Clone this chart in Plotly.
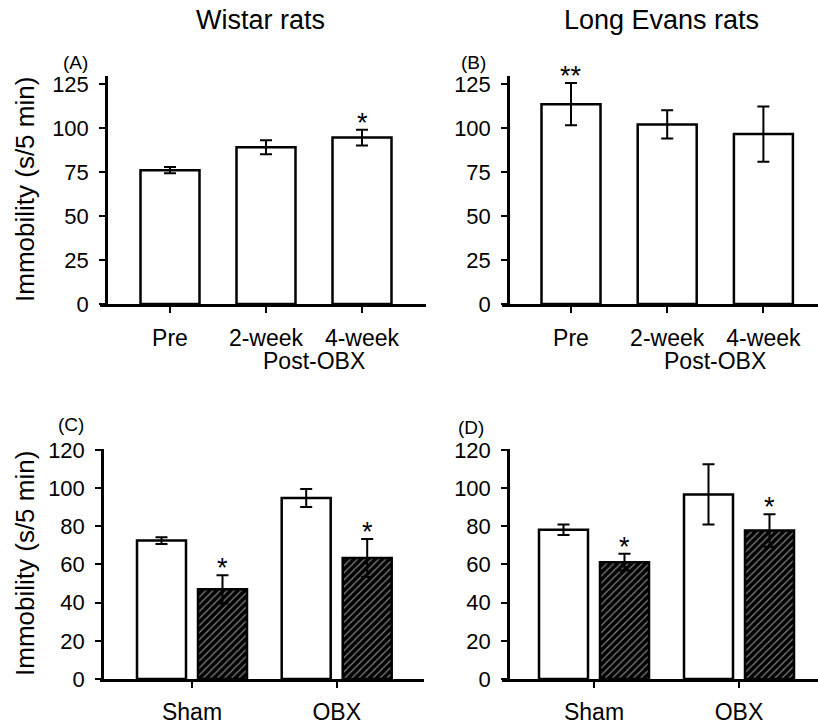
import plotly.graph_objects as go

W, H = 818, 725
FONT = "Liberation Sans, Arial, sans-serif"

# ---------------- data ----------------
time_cats = ["Pre", "2-week", "4-week"]
wistar_mean = [76, 89, 94.5]
wistar_err = [1.8, 4.0, 4.5]
wistar_sig = ["", "", "*"]

le_mean = [113.5, 102, 96.5]
le_err = [12, 8, 15.7]
le_sig = ["**", "", ""]

group_cats = ["Sham", "OBX"]
wistar_ctrl = [72.5, 94.8]
wistar_ctrl_err = [1.8, 4.7]
wistar_trt = [47, 63.4]
wistar_trt_err = [7.4, 10]
wistar_trt_sig = ["*", "*"]

le_ctrl = [78.2, 96.7]
le_ctrl_err = [2.7, 15.8]
le_trt = [61.2, 77.8]
le_trt_err = [4.4, 8.5]
le_trt_sig = ["*", "*"]

# ---------------- layout helpers ----------------
def px(x):
    return x / W

def py(y):
    return 1 - y / H

fig = go.Figure()

line_w = 2.5
err_style = lambda e: dict(type="data", array=e, visible=True, color="black", thickness=2, width=6)

# panel geometry (pixels): x-axis start, y-axis x, right end, top, bottom(zero)
panels = {
    "A": dict(x0=100, yx=106, x1=426, top=76, bot=304, t0=170, sp=96, ymax=129.5, sto=6),
    "B": dict(x0=502, yx=508, x1=818, top=76, bot=304, t0=571, sp=96.2, ymax=129.5, sto=6),
    "C": dict(x0=100, yx=102, x1=424, top=449, bot=679, t0=192, sp=144.7, ymax=120.5, sto=5),
    "D": dict(x0=502, yx=508, x1=818, top=449, bot=679, t0=594, sp=145, ymax=120.5, sto=5),
}
axis_ids = {"A": ("x", "y", "xaxis", "yaxis"), "B": ("x2", "y2", "xaxis2", "yaxis2"),
            "C": ("x3", "y3", "xaxis3", "yaxis3"), "D": ("x4", "y4", "xaxis4", "yaxis4")}

ann = []
STAR = dict(size=27, family=FONT, color="black")

def add_single(key, cats, mean, err, sig):
    xr, yr, _, _ = axis_ids[key]
    p = panels[key]
    fig.add_trace(go.Bar(x=cats, y=mean, xaxis=xr, yaxis=yr, width=59 / p["sp"],
                         marker=dict(color="white", line=dict(color="black", width=line_w)),
                         error_y=err_style(err), showlegend=False))
    for c, m, e, s in zip(cats, mean, err, sig):
        if s:
            ann.append(dict(x=c, y=m + e, xref=xr, yref=yr, text=s, showarrow=False,
                            xanchor="center", yanchor="bottom", yshift=-10, font=STAR))

def add_group(key, cats, ctrl, ctrl_e, trt, trt_e, sig):
    xr, yr, _, _ = axis_ids[key]
    p = panels[key]
    bw = 49 / p["sp"]
    gap = 12 / p["sp"]
    fig.add_trace(go.Bar(x=cats, y=ctrl, xaxis=xr, yaxis=yr, width=bw, offset=-(bw + gap / 2),
                         marker=dict(color="white", line=dict(color="black", width=line_w)),
                         error_y=err_style(ctrl_e), showlegend=False))
    fig.add_trace(go.Bar(x=cats, y=trt, xaxis=xr, yaxis=yr, width=bw, offset=gap / 2,
                         marker=dict(color="black", line=dict(color="black", width=line_w),
                                     pattern=dict(shape="/", fgcolor="white", bgcolor="black",
                                                  size=5, solidity=0.25, fillmode="overlay")),
                         error_y=err_style(trt_e), showlegend=False))
    for i, (c, m, e, s) in enumerate(zip(cats, trt, trt_e, sig)):
        if s:
            ann.append(dict(x=i + (gap / 2 + bw / 2), y=m + e, xref=xr, yref=yr, text=s,
                            showarrow=False, xanchor="center", yanchor="bottom", yshift=-10, font=STAR))

add_single("A", time_cats, wistar_mean, wistar_err, wistar_sig)
add_single("B", time_cats, le_mean, le_err, le_sig)
add_group("C", group_cats, wistar_ctrl, wistar_ctrl_err, wistar_trt, wistar_trt_err, wistar_trt_sig)
add_group("D", group_cats, le_ctrl, le_ctrl_err, le_trt, le_trt_err, le_trt_sig)

layout = dict(template="none", width=W, height=H, margin=dict(l=0, r=0, t=0, b=0, pad=0),
              paper_bgcolor="white", plot_bgcolor="white", barmode="overlay",
              font=dict(family=FONT, color="black"))

for key, p in panels.items():
    xr, yr, xa, ya = axis_ids[key]
    left = -(p["t0"] - p["x0"]) / p["sp"]
    right = (p["x1"] - p["t0"]) / p["sp"]
    layout[xa] = dict(domain=[px(p["x0"]), px(p["x1"])], anchor=yr, range=[left, right],
                      showline=True, linecolor="black", linewidth=line_w, ticks="outside",
                      ticklen=6, tickwidth=2, tickcolor="black", showgrid=False, zeroline=False,
                      tickfont=dict(size=23, family=FONT, color="black"), ticklabelstandoff=p["sto"],
                      automargin=False, fixedrange=True)
    if key in ("A", "B"):
        tv = [0, 25, 50, 75, 100, 125]
    else:
        tv = [0, 20, 40, 60, 80, 100, 120]
    layout[ya] = dict(domain=[py(p["bot"]), py(p["top"])], anchor="free", position=px(p["yx"]),
                      range=[0, p["ymax"]], tickvals=tv,
                      showline=True, linecolor="black", linewidth=line_w, ticks="outside",
                      ticklen=6, tickwidth=2, tickcolor="black", showgrid=False, zeroline=False,
                      tickfont=dict(size=22, family=FONT, color="black"), ticklabelstandoff=6,
                      automargin=False, fixedrange=True)
    if key in ("A", "C"):
        ann.append(dict(x=px(25), y=py((p["top"] + p["bot"]) / 2), xref="paper", yref="paper",
                        xanchor="center", yanchor="middle",
                        text="Immobility (s/5 min)", textangle=-90, showarrow=False,
                        font=dict(size=26, family=FONT, color="black")))

# Post-OBX labels
for key in ("A", "B"):
    xr, yr, _, _ = axis_ids[key]
    ann.append(dict(x=1.5, y=py(panels[key]["bot"]), xref=xr, yref="paper", text="Post-OBX",
                    showarrow=False, xanchor="center", yanchor="top", yshift=-42,
                    font=dict(size=23, family=FONT, color="black")))

# column titles
ann.append(dict(x=px(260), y=py(20), xref="paper", yref="paper", text="Wistar rats", showarrow=False,
                xanchor="center", yanchor="middle", font=dict(size=27, family=FONT, color="black")))
ann.append(dict(x=px(661), y=py(20), xref="paper", yref="paper", text="Long Evans rats", showarrow=False,
                xanchor="center", yanchor="middle", font=dict(size=27, family=FONT, color="black")))
# panel letters
for lab, (lx, ly) in {"(A)": (75, 62), "(B)": (474, 62), "(C)": (71, 425), "(D)": (471, 427)}.items():
    ann.append(dict(x=px(lx), y=py(ly), xref="paper", yref="paper", text=lab, showarrow=False,
                    xanchor="center", yanchor="middle", font=dict(size=19, family=FONT, color="black")))

layout["annotations"] = ann
fig.update_layout(**layout)
fig.write_html("out.html")
